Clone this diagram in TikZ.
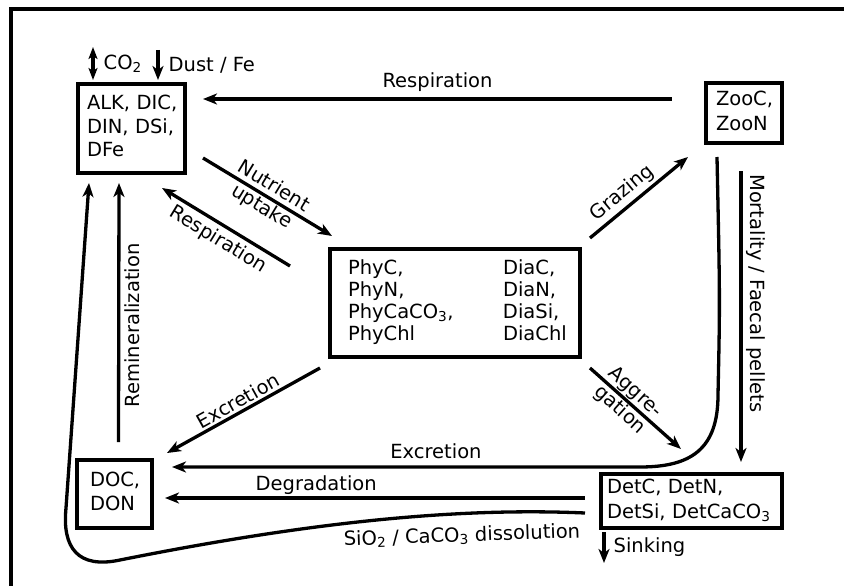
\documentclass[tikz,border=0pt]{standalone}
\usepackage{fontspec}
\setmainfont{DejaVu Sans}
\usetikzlibrary{arrows.meta,calc}

\tikzset{
	pool/.style={draw, line width=4pt, outer sep=0pt, inner sep=0pt, align=left, font=\fontsize{19.5}{23.5}\selectfont},
	flux/.style={line width=3.3pt, -{Stealth[length=14pt,width=11pt,inset=4pt]}},
	fluxback/.style={line width=3.3pt, {Stealth[length=14pt,width=11pt,inset=4pt]}-},
	fluxboth/.style={line width=3.3pt, {Stealth[length=12pt,width=9pt,inset=3pt]}-{Stealth[length=12pt,width=9pt,inset=3pt]}},
	lbl/.style={font=\fontsize{19.5}{23.5}\selectfont, inner sep=1pt, align=center}
}

\begin{document}
\begin{tikzpicture}[x=1pt, y=-1pt]
			%%%%% START %%%%%
			\useasboundingbox (0,0) rectangle (844,586);
			
			\draw[line width=3.5pt] (11,586) -- (11,9) -- (844,9);
			
			\node[pool, minimum width=107pt, minimum height=89pt, text width=89pt] (alk) at (131.5,128.5)
				{\begin{tabular}{@{}l@{}}ALK, DIC,\\DIN, DSi,\\DFe\end{tabular}};
			\node[pool, minimum width=250pt, minimum height=108pt, text width=214pt, font=\fontsize{19.5}{22}\selectfont] (phy) at (455,303)
				{\begin{tabular}{@{}p{155pt}@{}l@{}}
					PhyC, & DiaC,\\
					PhyN, & DiaN,\\
					PhyCaCO\textsubscript{3}, & DiaSi,\\
					PhyChl & DiaChl
				\end{tabular}};
			\node[pool, minimum width=76pt, minimum height=60pt, text width=56pt, font=\fontsize{19.5}{24.5}\selectfont] (zoo) at (744,113)
				{\begin{tabular}{@{}l@{}}ZooC,\\ZooN\end{tabular}};
			\node[pool, minimum width=75pt, minimum height=68pt, text width=49pt, font=\fontsize{19.5}{24}\selectfont] (doc) at (114.5,494)
				{\begin{tabular}{@{}l@{}}DOC,\\DON\end{tabular}};
			\node[pool, minimum width=181pt, minimum height=54pt, text width=169pt, font=\fontsize{19.5}{25}\selectfont] (det) at (691.5,501)
				{\begin{tabular}{@{}l@{}}DetC, DetN,\\DetSi, DetCaCO\textsubscript{3}\end{tabular}};
			
			% air-sea exchange
			\draw[fluxboth] ($(alk.north west)+(15,-37)$) -- node[lbl, right=8pt] {CO\textsubscript{2}} ($(alk.north west)+(15,-4)$);
			\draw[flux] ($(alk.north west)+(80,-34)$) -- node[lbl, right=8pt] {Dust / Fe} ($(alk.north west)+(80,-4)$);
			
			% upper fluxes
			\draw[fluxback] ($(alk.east)+(18,-29.5)$) -- node[lbl, above=5pt] {Respiration} ($(zoo.west)+(-34,-14)$);
			\draw[flux] ($(alk.south east)+(18,-15)$) -- node[lbl, sloped] {Nutrient\\uptake} ($(phy.north west)+(2,-13)$);
			\draw[fluxback] ($(alk.south east)+(-23,15)$) -- node[lbl, sloped, below=3pt] {Respiration} ($(phy.north west)+(-40,17)$);
			\draw[flux] ($(phy.north east)+(10,-11)$) -- node[lbl, sloped, pos=0.42, above=2pt] {Grazing} ($(zoo.south west)+(-18,14)$);
			
			% lower fluxes
			\draw[flux] ($(phy.south east)+(10,11)$) -- node[lbl, sloped, pos=0.41] {Aggre-\\gation} ($(det.north west)+(80,-25)$);
			\draw[fluxback] ($(doc.north east)+(15,-7)$) -- node[lbl, sloped, above=1pt] {Excretion} ($(phy.south west)+(-10,11)$);
			\draw[flux] ($(zoo.south)+(-3,28)$) -- node[lbl, sloped, pos=0.42, above=3pt] {Mortality / Faecal pellets} ($(det.north)+(49.5,-12)$);
			\draw[flux] ($(doc.north)+(4,-18)$) -- node[lbl, sloped, pos=0.45, below=3pt] {Remineralization} ($(alk.south west)+(41,10)$);
			\draw[flux] ($(zoo.south)+(-27,14)$) .. controls (720,300) .. (718,395) .. controls (718,450) and (690,467) .. (640,467)
				-- node[lbl, pos=0.436, above=6pt] {Excretion} ($(doc.east)+(20,-27)$);
			\draw[fluxback] ($(doc.east)+(13,4)$) -- node[lbl, pos=0.36, above=1pt] {Degradation} ($(det.west)+(-16,-3)$);
			\draw[flux] ($(det.west)+(-16,12)$) .. controls (450,507) and (300,524) .. (120,560) .. controls (78,569) and (62,548) .. (66,508)
				-- ($(alk.south west)+(11,10)$);
			\node[lbl, rotate=2] (dissol) at ($(det.west)+(-139,35)$) {SiO\textsubscript{2} / CaCO\textsubscript{3} dissolution};
			\draw[flux] ($(det.south west)+(3,4)$) -- node[lbl, right=7pt] {Sinking} ($(det.south west)+(3,35)$);
			
			%%%%% END %%%%%
\end{tikzpicture}
\end{document}
